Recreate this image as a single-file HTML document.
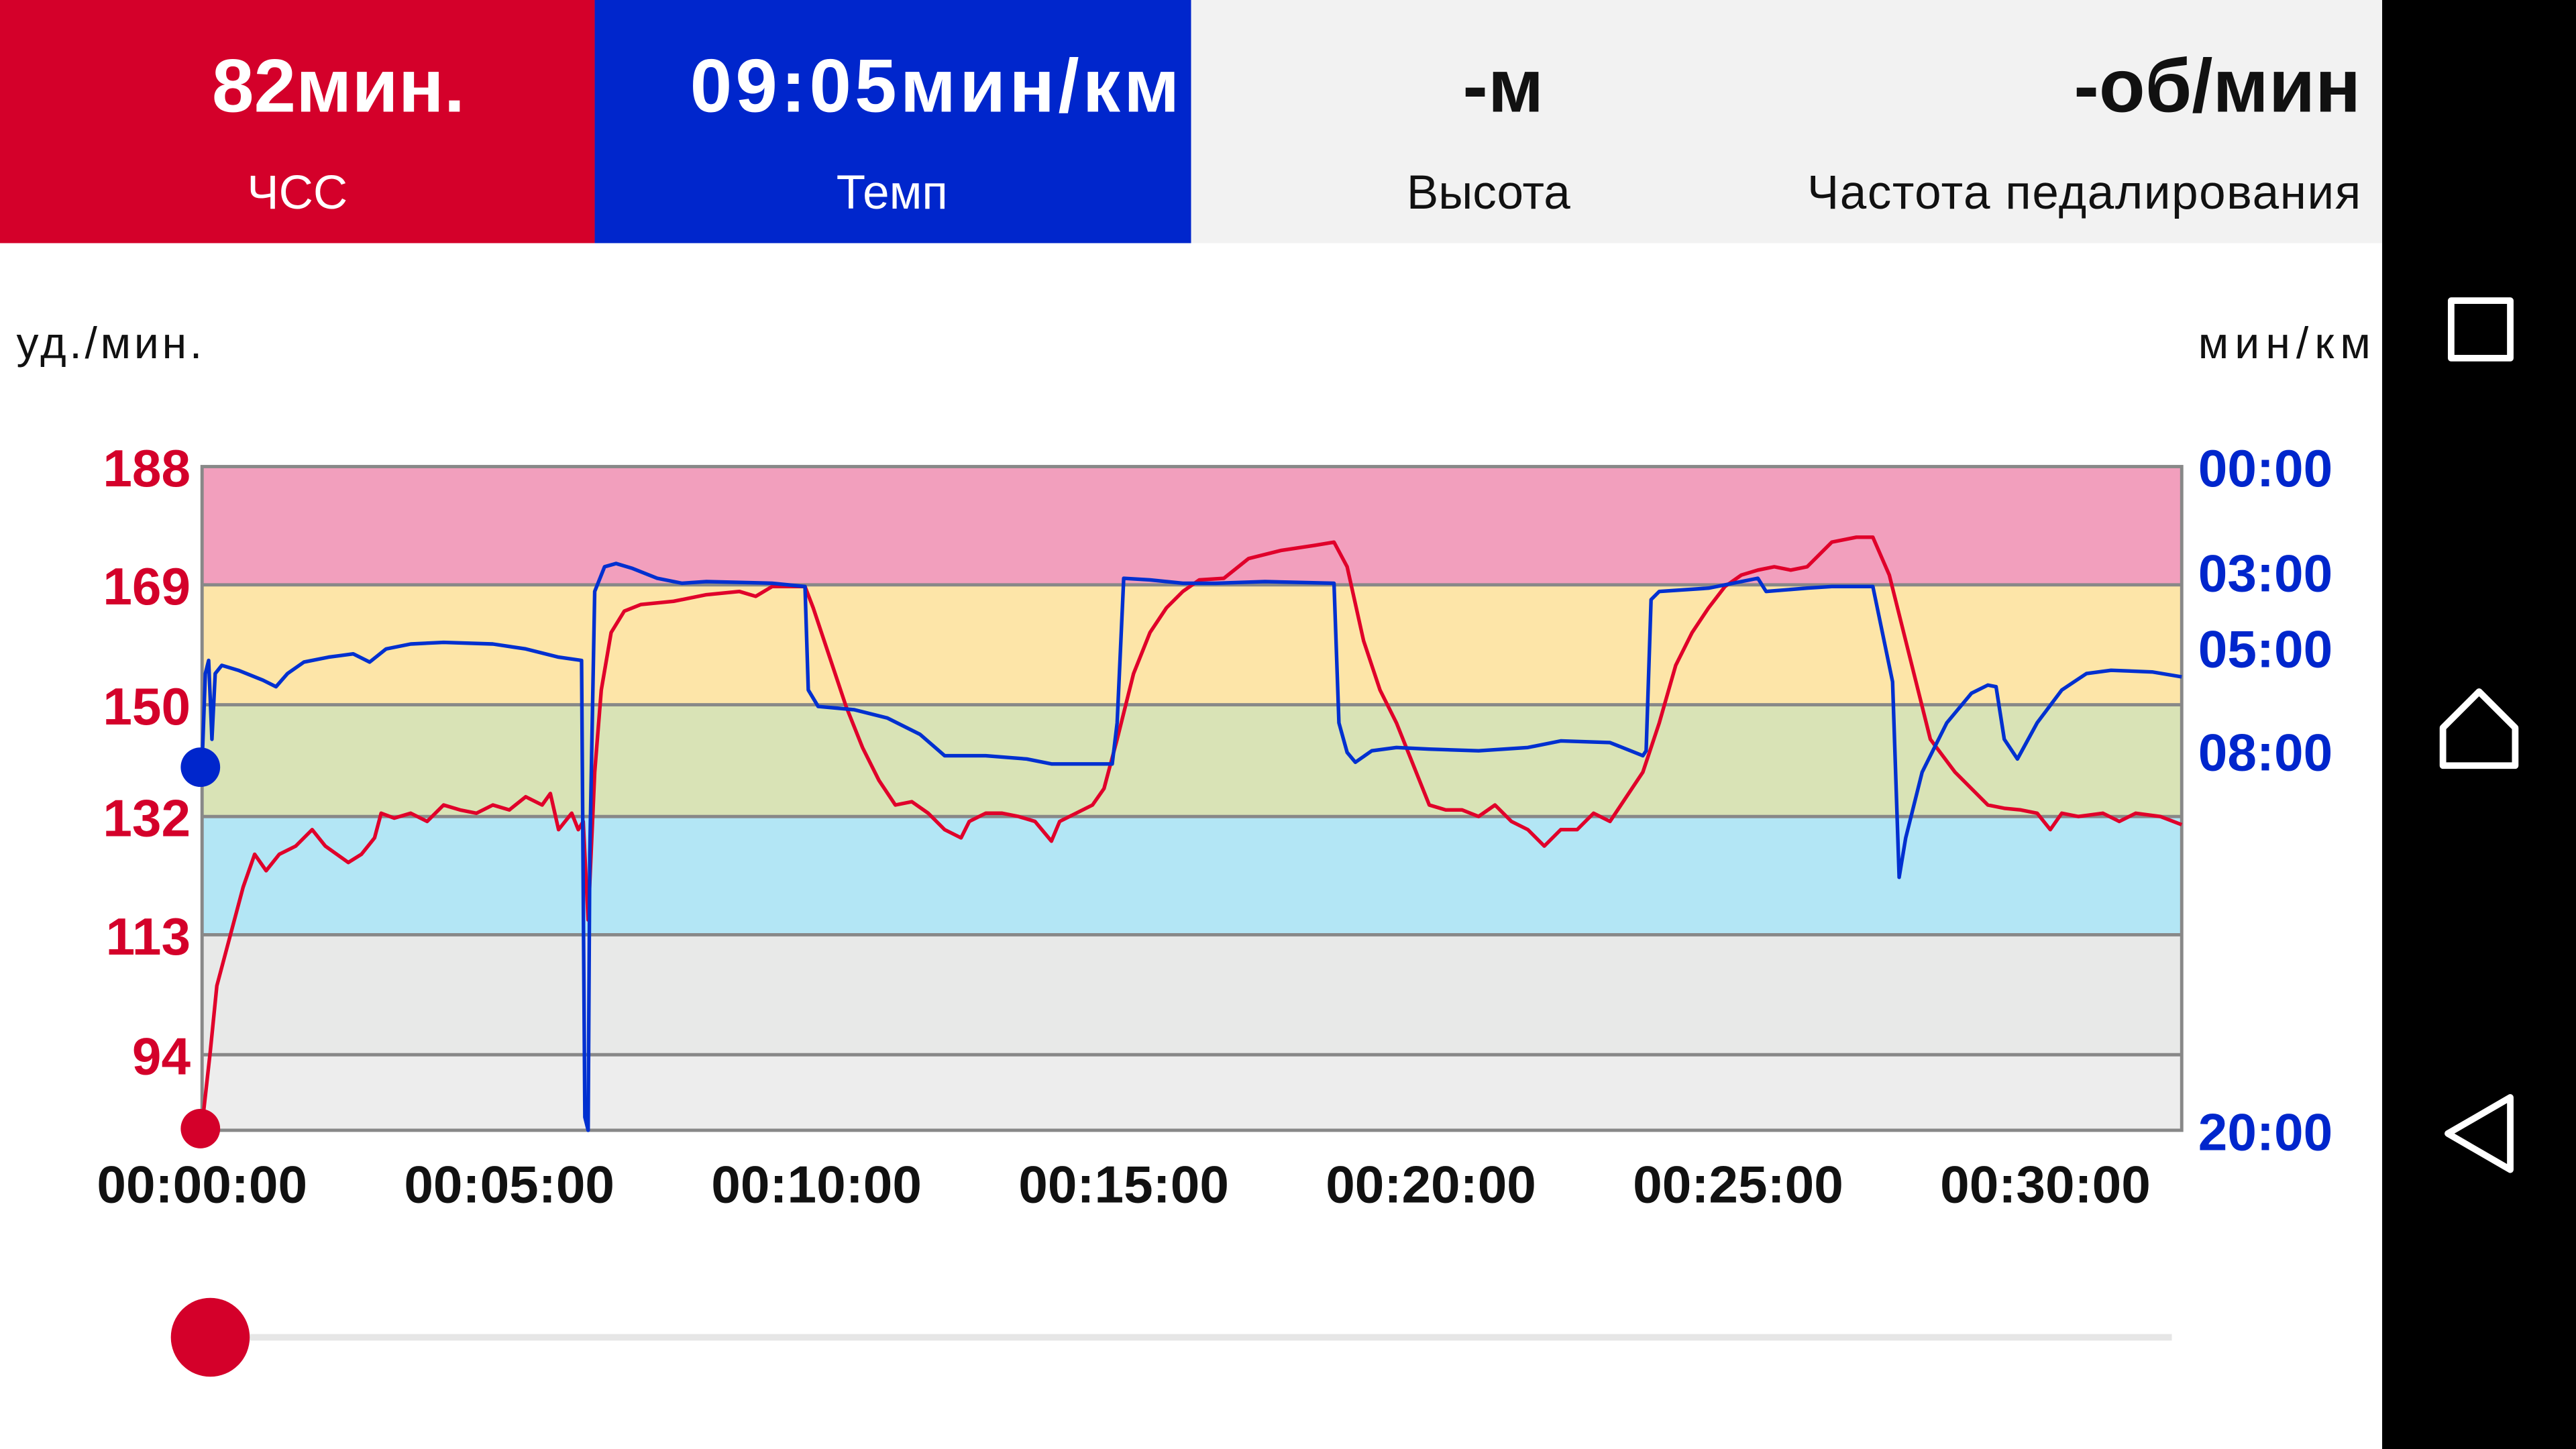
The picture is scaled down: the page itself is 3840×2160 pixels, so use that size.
<!DOCTYPE html>
<html><head><meta charset="utf-8"><style>html,body{margin:0;padding:0;background:#fff}svg{display:block}text{font-family:"Liberation Sans",sans-serif}</style></head><body>
<svg width="3840" height="2160" viewBox="0 0 1568 882" xmlns="http://www.w3.org/2000/svg">
<rect width="1568" height="882" fill="#fff"/>
<rect x="0" y="0" width="362" height="148" fill="#d4002a"/>
<rect x="362" y="0" width="363" height="148" fill="#0026cc"/>
<rect x="725" y="0" width="725" height="148" fill="#f2f2f2"/>
<rect x="1450" y="0" width="118" height="882" fill="#000"/>
<g font-weight="bold" font-size="46" text-anchor="middle">
<text x="206" y="68" fill="#fff">82мин.</text>
<text x="569" y="68" fill="#fff" textLength="298">09:05мин/км</text>
<text x="915" y="68" fill="#111">-м</text>
<text x="1437" y="68" fill="#111" text-anchor="end">-об/мин</text>
</g>
<g font-size="29" text-anchor="middle">
<text x="181" y="127" fill="#fff">ЧСС</text>
<text x="543" y="127" fill="#fff">Темп</text>
<text x="906" y="127" fill="#111">Высота</text>
<text x="1437" y="127" fill="#111" text-anchor="end" textLength="337">Частота педалирования</text>
</g>
<text x="10" y="218" font-size="27" fill="#111" textLength="113">уд./мин.</text>
<text x="1443" y="218" font-size="27" fill="#111" text-anchor="end" textLength="105">мин/км</text>
<rect x="123" y="284" width="1205" height="72" fill="#f29fbd"/>
<rect x="123" y="356" width="1205" height="73" fill="#fde5a8"/>
<rect x="123" y="429" width="1205" height="68" fill="#d9e3b6"/>
<rect x="123" y="497" width="1205" height="72" fill="#b3e6f5"/>
<rect x="123" y="569" width="1205" height="73" fill="#e8e9e8"/>
<rect x="123" y="642" width="1205" height="46" fill="#ededed"/>
<g stroke="#888" stroke-width="2" fill="none">
<rect x="123" y="284" width="1205" height="404"/>
<line x1="123" y1="356" x2="1328" y2="356"/><line x1="123" y1="429" x2="1328" y2="429"/><line x1="123" y1="497" x2="1328" y2="497"/><line x1="123" y1="569" x2="1328" y2="569"/><line x1="123" y1="642" x2="1328" y2="642"/>
</g>
<g font-weight="bold" font-size="32" fill="#d4002a" text-anchor="end">
<text x="116" y="296">188</text><text x="116" y="368">169</text><text x="116" y="441">150</text><text x="116" y="509">132</text><text x="116" y="581">113</text><text x="116" y="654">94</text>
</g>
<g font-weight="bold" font-size="32" fill="#0026cc">
<text x="1338" y="296">00:00</text><text x="1338" y="360">03:00</text><text x="1338" y="406">05:00</text><text x="1338" y="469">08:00</text><text x="1338" y="700">20:00</text>
</g>
<g font-weight="bold" font-size="32" fill="#111" text-anchor="middle">
<text x="123" y="732">00:00:00</text><text x="310" y="732">00:05:00</text><text x="497" y="732">00:10:00</text><text x="684" y="732">00:15:00</text><text x="871" y="732">00:20:00</text><text x="1058" y="732">00:25:00</text><text x="1245" y="732">00:30:00</text>
</g>
<polyline fill="none" stroke="#e0002a" stroke-width="2.2" stroke-linejoin="round" points="123,685 128,640 132,600 140,570 148,540 155,520 162,530 170,520 180,515 190,505 198,515 205,520 212,525 220,520 228,510 232,495 240,498 250,495 260,500 270,490 280,493 290,495 300,490 310,493 320,485 330,490 335,483 340,505 348,495 352,505 355,500 358,560 362,470 366,420 372,385 380,372 390,368 410,366 430,362 450,360 460,363 470,357 490,357 495,370 505,400 515,430 525,455 535,475 545,490 555,488 565,495 575,505 585,510 590,500 600,495 610,495 620,497 630,500 640,512 645,500 655,495 665,490 672,480 680,450 690,410 700,385 710,370 720,360 730,353 745,352 760,340 780,335 800,332 812,330 820,345 830,390 840,420 850,440 860,465 870,490 880,493 890,493 900,497 910,490 920,500 930,505 940,515 950,505 960,505 970,495 980,500 990,485 1000,470 1010,440 1020,405 1030,385 1040,370 1050,357 1060,350 1070,347 1080,345 1090,347 1100,345 1115,330 1130,327 1140,327 1150,350 1160,390 1175,450 1190,470 1200,480 1210,490 1220,492 1230,493 1240,495 1248,505 1255,495 1265,497 1280,495 1290,500 1300,495 1315,497 1328,502"/>
<polyline fill="none" stroke="#0030d0" stroke-width="2.2" stroke-linejoin="round" points="123,465 125,410 127,402 129,450 131,410 135,405 145,408 160,414 168,418 175,410 185,403 200,400 215,398 225,403 235,395 250,392 270,391 300,392 320,395 340,400 354,402 356,680 358,688 359,520 362,360 368,345 375,343 385,346 400,352 415,355 430,354 470,355 490,357 492,420 498,430 520,432 540,437 560,447 575,460 600,460 625,462 640,465 677,465 680,440 684,352 700,353 720,355 740,355 770,354 812,355 815,440 820,458 825,464 835,457 850,455 870,456 900,457 930,455 950,451 980,452 1000,460 1002,457 1005,365 1010,360 1040,358 1070,352 1075,360 1100,358 1115,357 1140,357 1152,415 1156,534 1160,510 1170,470 1185,440 1200,422 1210,417 1215,418 1220,450 1228,462 1240,440 1255,420 1270,410 1285,408 1310,409 1328,412"/>
<circle cx="122" cy="467" r="12" fill="#0026cc"/>
<circle cx="122" cy="687" r="12" fill="#d4002a"/>
<line x1="127" y1="814" x2="1322" y2="814" stroke="#e6e6e6" stroke-width="4"/>
<circle cx="128" cy="814" r="24" fill="#d4002a"/>
<g stroke="#fff" stroke-width="4" fill="none" stroke-linejoin="round">
<rect x="1492" y="183" width="36" height="35"/>
<path d="M1487,443 L1509,421 L1531,443 L1531,466 L1487,466 Z"/>
<path d="M1528,668 L1528,712 L1490,690 Z"/>
</g>
</svg>
</body></html>
